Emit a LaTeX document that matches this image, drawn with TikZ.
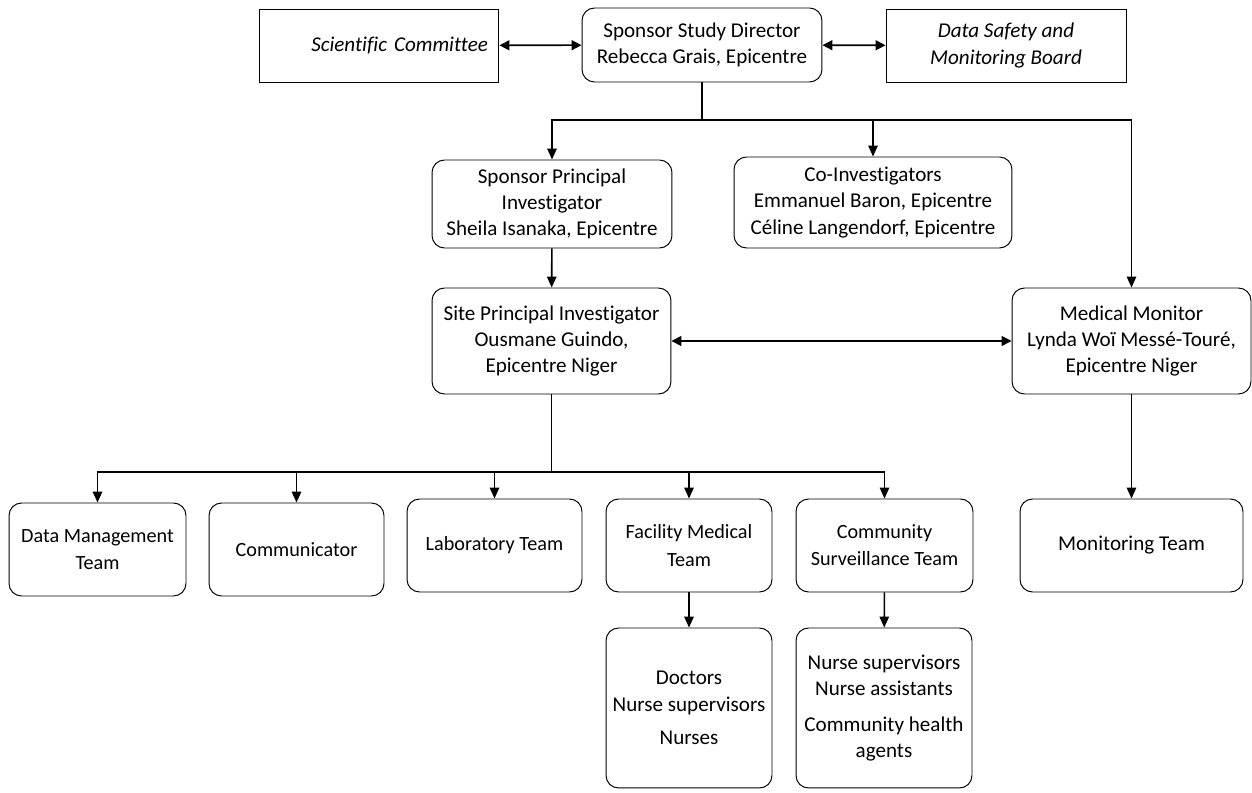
\documentclass[tikz,border=0pt]{standalone}
\usepackage{fontspec}
\setmainfont{Carlito}[Ligatures=NoCommon]
\usepackage{tikz}
\usetikzlibrary{positioning, arrows.meta, calc}

\begin{document}
\begin{tikzpicture}[
    x=0.02cm, y=-0.02cm,
    panel/.style={draw, line width=0.55pt, minimum width=4.8cm, minimum height=1.46cm,
                  font=\fontsize{12}{15}\selectfont\itshape, align=center, inner sep=2pt},
    role/.style={draw, rounded corners=0.25cm, line width=0.55pt, align=center, inner sep=2pt,
                 font=\fontsize{12}{15}\selectfont},
    team/.style={role, minimum height=1.86cm, font=\fontsize{11.5}{15.5}\selectfont},
    arr/.style={-{Triangle[length=2.2mm, width=1.9mm]}, line width=0.9pt},
    link/.style={{Triangle[length=2mm, width=2mm]}-{Triangle[length=2mm, width=2mm]}, line width=0.9pt},
    bus/.style={line width=0.9pt},
]
\useasboundingbox (0,0) rectangle (1252,793);

% Top row: committees around the study director
\node[panel, text width=4.36cm, align=right] (sci) at (379,45.5) {\mbox{Scientific Committee}};
\node[role, minimum width=4.8cm, minimum height=1.48cm] (dir) at (702,45) {
  Sponsor Study Director\\
  Rebecca Grais, Epicentre
};
\node[panel] (dsmb) at (1006,45.5) {
  Data Safety and\\
  Monitoring Board
};

% Investigators
\node[role, minimum width=4.8cm, minimum height=1.76cm] (sponpi) at (552,204) {
  Sponsor Principal\\
  Investigator\\
  Sheila Isanaka, Epicentre
};
\node[role, minimum width=5.56cm, minimum height=1.82cm] (coinv) at (873,202.5) {
  Co-Investigators\\
  Emmanuel Baron, Epicentre\\
  Céline Langendorf, Epicentre
};
\node[role, minimum width=4.78cm, minimum height=2.12cm] (spi) at (551.5,341) {
  Site Principal Investigator\\
  Ousmane Guindo,\\
  Epicentre Niger
};
\node[role, minimum width=4.78cm, minimum height=2.12cm] (mm) at (1131.5,341) {
  Medical Monitor\\
  Lynda Woï Messé-Touré,\\
  Epicentre Niger
};

% Teams
\node[team, minimum width=3.54cm] (dm) at (97.5,549.5) {Data Management\\ Team};
\node[team, minimum width=3.5cm] (comm) at (296.5,549.5) {Communicator};
\node[team, minimum width=3.5cm] (lab) at (494.5,545.5) {Laboratory Team};
\node[team, minimum width=3.32cm] (fac) at (689,545.5) {Facility Medical\\ Team};
\node[team, minimum width=3.54cm] (cst) at (884.5,545.5) {Community\\ Surveillance Team};
\node[team, minimum width=4.46cm, font=\fontsize{12}{15}\selectfont] (mt) at (1131.5,545.5) {Monitoring Team};

% Staff
\node[role, minimum width=3.32cm, minimum height=3.2cm] (doc) at (689,708) {
  Doctors\\
  Nurse supervisors\\[4pt]
  Nurses
};
\node[role, minimum width=3.52cm, minimum height=3.2cm] (nurse) at (884,708) {
  Nurse supervisors\\
  Nurse assistants\\[5pt]
  Community health\\
  agents
};

\draw[link] (sci) -- (dir);
\draw[link] (dir) -- (dsmb);

\coordinate (top bus) at (702,120);
\draw[bus] (dir) -- (top bus);
\draw[arr] (top bus) -| (sponpi);
\draw[arr] (top bus) -| (coinv);
\draw[arr] (top bus) -| (mm);

\draw[arr] (sponpi) -- (spi);
\draw[link] (spi) -- (mm);

\coordinate (team bus) at (551.5,472);
\draw[bus] (spi) -- (team bus);
\foreach \t in {dm, comm, lab, fac, cst} {
  \draw[arr] (team bus) -| (\t);
}
\draw[arr] (mm) -- (mt);
\draw[arr] (fac) -- (doc);
\draw[arr] (cst) -- (nurse);

\end{tikzpicture}
\end{document}
